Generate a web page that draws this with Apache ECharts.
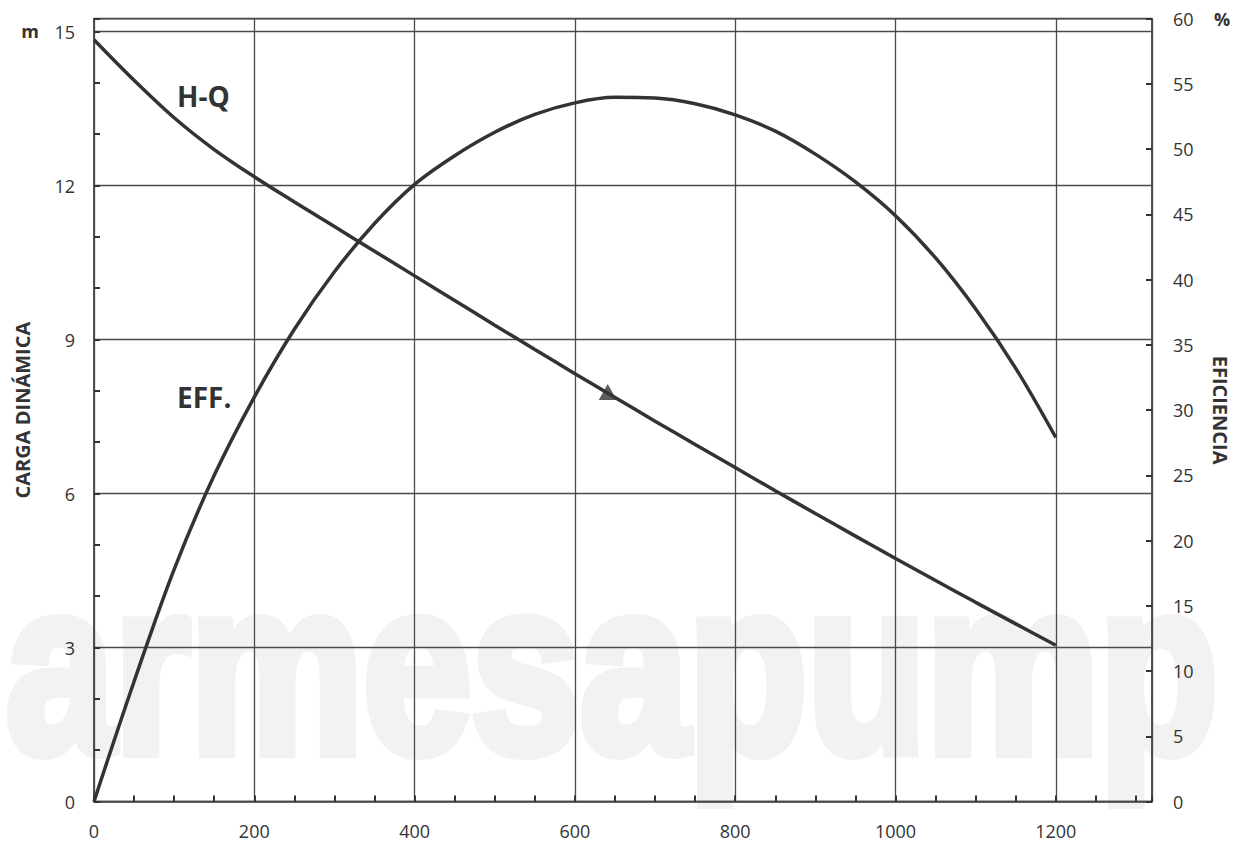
<!DOCTYPE html>
<html>
<head>
<meta charset="utf-8">
<script src="https://cdn.jsdelivr.net/npm/echarts@6/dist/echarts.min.js"></script>
<style>
html,body{margin:0;padding:0;background:#fff;}
#chart{width:1238px;height:843px;}
</style>
</head>
<body>
<div id="chart"></div>
<script>
// Data
const hqFlow = [0,50,100,150,200,250,300,350,400,450,500,550,600,650,700,750,800,850,900,950,1000,1050,1100,1150,1200];
const hqHead = [14.84,14.05,13.32,12.70,12.17,11.68,11.20,10.72,10.24,9.76,9.28,8.805,8.335,7.87,7.41,6.955,6.505,6.055,5.61,5.17,4.735,4.305,3.88,3.46,3.045];
const effFlow = [0,50,100,150,200,250,300,350,400,450,500,550,600,650,700,750,800,850,900,950,1000,1050,1100,1150,1200];
const effValue = [0,9.2,17.8,25.0,31.0,36.2,40.6,44.3,47.3,49.5,51.3,52.66,53.55,53.97,53.92,53.48,52.63,51.38,49.62,47.49,44.9,41.66,37.75,33.2,27.9];
const markerPoint = [[641, 7.98]];
const xTickLabels = ['0','200','400','600','800','1000','1200'];
const leftTickLabels = ['0','3','6','9','12','15'];
const rightTickLabels = ['0','5','10','15','20','25','30','35','40','45','50','55','60'];

const ink = '#333333';
const gridInk = '#4a4a4a';
const font = '"Open Sans", "Noto Sans", sans-serif';

const chart = echarts.init(document.getElementById('chart'), null, {renderer: 'svg'});

const hqData = hqFlow.map((q, i) => [q, hqHead[i]]);
const effData = effFlow.map((q, i) => [q, effValue[i]]);

chart.setOption({
  animation: false,
  backgroundColor: '#ffffff',
  grid: {left: 94, top: 18.7, right: 83, bottom: 41.5, show: true, borderColor: gridInk, borderWidth: 1.5, backgroundColor: 'transparent'},
  graphic: [
    {type: 'text', z: -10, x: 6, y: 790, scaleX: 0.795,
      style: {text: 'armesapump', font: 'bold 245px "Liberation Sans", Arial, sans-serif', fill: '#f2f2f2', stroke: '#f2f2f2', lineWidth: 12, verticalAlign: 'bottom', align: 'left'}},
    {type: 'rect', z: -9, shape: {x: 0, y: 811, width: 1238, height: 32}, style: {fill: '#ffffff'}},
    {type: 'text', x: 30, y: 31, style: {text: 'm', font: 'bold 18px ' + font, fill: ink, align: 'center', verticalAlign: 'middle'}},
    {type: 'text', x: 1222, y: 19, style: {text: '%', font: 'bold 18px ' + font, fill: ink, align: 'center', verticalAlign: 'middle'}},
    {type: 'text', x: 177, y: 96, style: {text: 'H-Q', font: 'bold 28px ' + font, fill: ink, align: 'left', verticalAlign: 'middle'}},
    {type: 'text', x: 177, y: 397, style: {text: 'EFF.', font: 'bold 28px ' + font, fill: ink, align: 'left', verticalAlign: 'middle'}}
  ],
  xAxis: [
    {type: 'value', min: 0, max: 1320, interval: 200, position: 'bottom',
      axisLine: {show: true, lineStyle: {color: gridInk, width: 1.5}},
      axisTick: {show: false},
      axisLabel: {show: true, showMaxLabel: false, margin: 20, color: ink, fontSize: 18, fontFamily: font,
        formatter: v => xTickLabels.includes(String(v)) ? String(v) : ''},
      splitLine: {show: true, lineStyle: {color: gridInk, width: 1.3}}},
    {type: 'value', min: 0, max: 1320, interval: 50, position: 'bottom',
      axisLine: {show: false},
      axisTick: {show: true, inside: true, length: 6, lineStyle: {color: ink, width: 2}},
      axisLabel: {show: false}, splitLine: {show: false}}
  ],
  yAxis: [
    {type: 'value', min: 0, max: 15.25, interval: 3, position: 'left',
      name: 'CARGA DINÁMICA', nameLocation: 'middle', nameRotate: 90, nameGap: 62,
      nameTextStyle: {color: ink, fontSize: 20, fontWeight: 'bold', fontFamily: font},
      axisLine: {show: true, lineStyle: {color: gridInk, width: 1.5}},
      axisTick: {show: false},
      axisLabel: {show: true, showMaxLabel: false, margin: 19, color: ink, fontSize: 18, fontFamily: font,
        formatter: v => leftTickLabels.includes(String(v)) ? String(v) : ''},
      splitLine: {show: true, lineStyle: {color: gridInk, width: 1.3}}},
    {type: 'value', min: 0, max: 15.25, interval: 1, position: 'left',
      axisLine: {show: false},
      axisTick: {show: true, inside: true, length: 6, lineStyle: {color: ink, width: 2}},
      axisLabel: {show: false}, splitLine: {show: false}},
    {type: 'value', min: 0, max: 60, interval: 5, position: 'right',
      name: 'EFICIENCIA', nameLocation: 'middle', nameRotate: -90, nameGap: 58,
      nameTextStyle: {color: ink, fontSize: 20, fontWeight: 'bold', fontFamily: font},
      axisLine: {show: true, lineStyle: {color: gridInk, width: 1.5}},
      axisTick: {show: true, inside: true, length: 6, lineStyle: {color: ink, width: 2}},
      axisLabel: {show: true, margin: 21, color: ink, fontSize: 18, fontFamily: font, align: 'left',
        formatter: v => rightTickLabels.includes(String(v)) ? String(v) : ''},
      splitLine: {show: false}}
  ],
  series: [
    {type: 'line', name: 'H-Q', xAxisIndex: 0, yAxisIndex: 0, data: hqData, smooth: 0.35, showSymbol: false, symbol: 'none',
      lineStyle: {color: ink, width: 3.5}, z: 5},
    {type: 'line', name: 'EFF.', xAxisIndex: 0, yAxisIndex: 2, data: effData, smooth: 0.35, showSymbol: false, symbol: 'none',
      lineStyle: {color: ink, width: 3.5}, z: 5},
    {type: 'scatter', xAxisIndex: 0, yAxisIndex: 0, data: markerPoint, symbol: 'triangle', symbolSize: [18, 16],
      itemStyle: {color: ink}, z: 6}
  ]
});
</script>
</body>
</html>
